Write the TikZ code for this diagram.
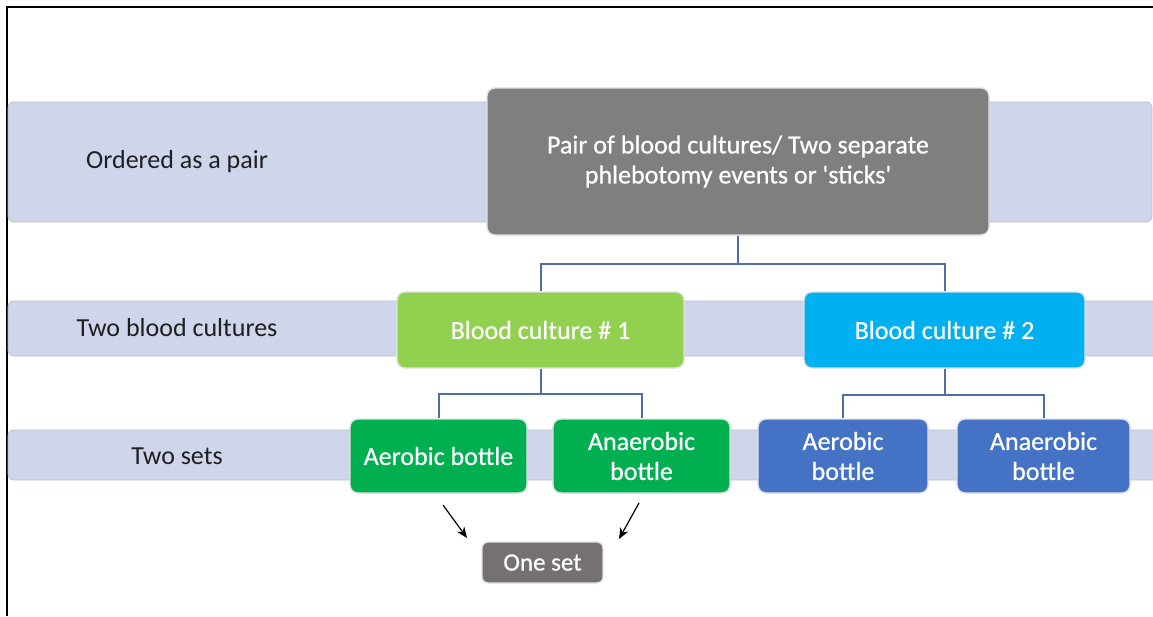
\documentclass[tikz,border=0pt]{standalone}
\usepackage{fontspec}
\setmainfont{Carlito}
\newfontfamily\boxfont[FakeBold=0.6]{Carlito}
\usetikzlibrary{arrows.meta}

\definecolor{bandfill}{HTML}{CFD5EA}
\definecolor{bandline}{HTML}{B9BDCB}
\definecolor{topgray}{HTML}{7F7F7F}
\definecolor{limegreen}{HTML}{92D050}
\definecolor{skyblue}{HTML}{00B0F0}
\definecolor{bottlegreen}{HTML}{00B050}
\definecolor{bottleblue}{HTML}{4472C4}
\definecolor{setgray}{HTML}{767171}
\definecolor{linkblue}{HTML}{4E6FA6}

\tikzset{
  band/.style={fill=bandfill, draw=bandline, line width=0.8pt, rounded corners=6pt},
  bandlabel/.style={text=black!88, font=\fontsize{26}{30}\selectfont, anchor=center},
  box/.style={draw=white!88!black, line width=1.4pt, rounded corners=8pt, inner sep=0pt,
    text=white, align=center, font=\boxfont\fontsize{26}{30}\selectfont, anchor=center},
  link/.style={draw=linkblue, line width=2pt},
  pointer/.style={draw=black, line width=1.2pt, -{Stealth[length=11pt,width=9pt]}}
}

\begin{document}
\begin{tikzpicture}[x=1pt,y=-1pt]
\useasboundingbox (0,0) rectangle (1153,616);

% frame lines on the left and top edges
\draw[line width=2pt] (6.5,616) -- (6.5,7) -- (1153,7);

% horizontal level bands
\draw[band] (8,102) rectangle (1152,222);
\draw[band] (8,301) rectangle (1160,356);
\draw[band] (8,430) rectangle (1160,480);

% level labels
\node[bandlabel] (lvl1) at (177,162) {Ordered as a pair};
\node[bandlabel] (lvl2) at (177,328) {Two blood cultures};
\node[bandlabel] (lvl3) at (177,456) {Two sets};

% hierarchy boxes
\node[box, fill=topgray, minimum width=502pt, minimum height=147pt] (top) at (738,161.5)
  {Pair of blood cultures/ Two separate\\phlebotomy events or \textquotesingle sticks\textquotesingle};

\node[box, fill=limegreen, minimum width=287pt, minimum height=76pt] (bc1) at (540.5,330)
  {Blood culture \# 1};
\node[box, fill=skyblue, minimum width=281pt, minimum height=76pt] (bc2) at (944.5,330)
  {Blood culture \# 2};

\node[box, fill=bottlegreen, minimum width=177pt, minimum height=74pt] (aer1) at (438.5,456)
  {Aerobic bottle};
\node[box, fill=bottlegreen, minimum width=177pt, minimum height=74pt] (ana1) at (641.5,456)
  {Anaerobic\\bottle};
\node[box, fill=bottleblue, minimum width=170pt, minimum height=74pt] (aer2) at (843,456)
  {Aerobic\\bottle};
\node[box, fill=bottleblue, minimum width=173pt, minimum height=74pt] (ana2) at (1043.5,456)
  {Anaerobic\\bottle};

\node[box, fill=setgray, rounded corners=6pt, minimum width=121pt, minimum height=41pt,
  font=\boxfont\fontsize{25}{29}\selectfont] (oneset) at (542.5,562.5) {One set};

% tree connectors
\draw[link] (top.south) -- ++(0,28) -| (bc1.north);
\draw[link] (top.south) -- ++(0,28) -| (bc2.north);
\draw[link] (bc1.south) -- ++(0,25) -| (aer1.north);
\draw[link] (bc1.south) -- ++(0,25) -| (ana1.north);
\draw[link] (bc2.south) -- ++(0,26) -| (aer2.north);
\draw[link] (bc2.south) -- ++(0,26) -| (ana2.north);

% the two bottles together make one set
\coordinate (p1s) at (443,505);
\coordinate (p1e) at (467,538);
\coordinate (p2s) at (639,503);
\coordinate (p2e) at (619,539);
\draw[pointer] (p1s) -- (p1e);
\draw[pointer] (p2s) -- (p2e);
\end{tikzpicture}
\end{document}
